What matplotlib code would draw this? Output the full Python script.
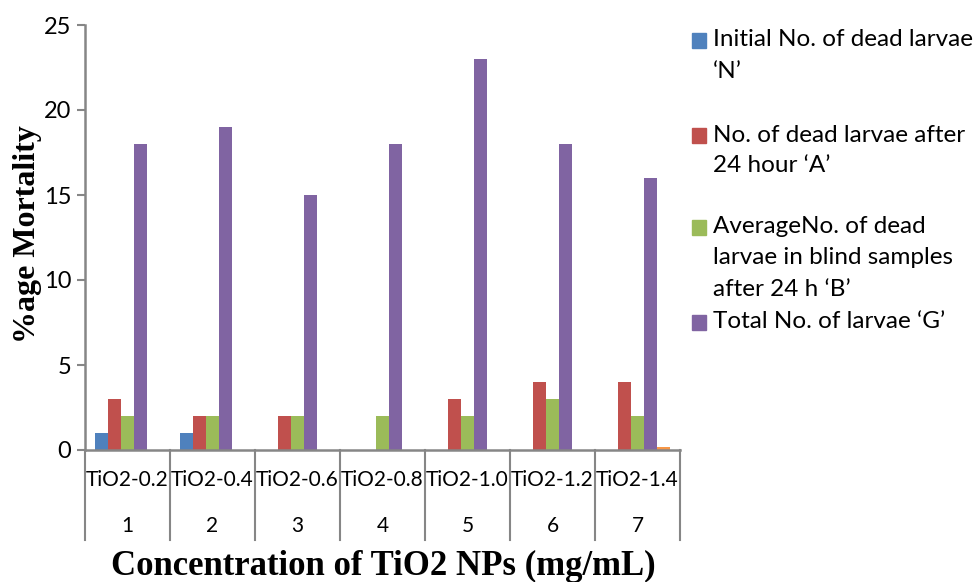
import numpy as np
import matplotlib.pyplot as plt
from matplotlib.patches import Rectangle
from matplotlib.transforms import blended_transform_factory

# Mortality counts per TiO2 concentration
samples = ['TiO2-0.2', 'TiO2-0.4', 'TiO2-0.6', 'TiO2-0.8', 'TiO2-1.0', 'TiO2-1.2', 'TiO2-1.4']
sample_no = ['1', '2', '3', '4', '5', '6', '7']
initial_dead = [1, 1, 0, 0, 0, 0, 0]
dead_24h = [3, 2, 2, 0, 3, 4, 4]
blind_avg = [2, 2, 2, 2, 2, 3, 2]
total_larvae = [18, 19, 15, 18, 23, 18, 16]
extra_series = [0, 0, 0, 0, 0, 0, 0.15]

legend_labels = [
    'Initial No. of dead larvae\n\u2018N\u2019',
    'No. of dead larvae after\n24 hour \u2018A\u2019',
    'AverageNo. of dead\nlarvae in blind samples\nafter 24 h \u2018B\u2019',
    'Total No. of larvae \u2018G\u2019',
]
colors = ['#4F81BD', '#C0504D', '#9BBB59', '#8064A2', '#F79646']
series = [initial_dead, dead_24h, blind_avg, total_larvae, extra_series]

plt.rcParams['font.family'] = ['Lato', 'DejaVu Sans']
W, H = 976, 582
fig = plt.figure(figsize=(W / 100, H / 100), dpi=100)
ax = fig.add_axes([85 / W, 1 - 450 / H, 595 / W, 425 / H])

x = np.arange(len(samples))
bw = 13 / 85
for k, (vals, c) in enumerate(zip(series, colors)):
    ax.bar(x + (k - 2) * bw, vals, width=bw, color=c, edgecolor='none', zorder=2)

ax.set_xlim(-0.5, len(samples) - 0.5)
ax.set_ylim(0, 25)
ax.set_yticks([0, 5, 10, 15, 20, 25])
ax.tick_params(axis='y', length=6, width=1.5, color='#868686', labelsize=17, pad=4)
ax.set_xticks([])
for s in ['top', 'right']:
    ax.spines[s].set_visible(False)
for s in ['left', 'bottom']:
    ax.spines[s].set_color('#868686')
    ax.spines[s].set_linewidth(1.8)

# two-level category axis drawn as a table under the plot
tr = blended_transform_factory(ax.transData, ax.transAxes)
for b in np.arange(len(samples) + 1) - 0.5:
    ax.plot([b, b], [0, -90 / 425], transform=tr, color='#868686', lw=1.5, clip_on=False)
for i in range(len(samples)):
    ax.text(x[i], -30 / 425, samples[i], transform=tr, ha='center', va='center', fontsize=15)
    ax.text(x[i], -76 / 425, sample_no[i], transform=tr, ha='center', va='center', fontsize=15)

fig.text(383 / W, 1 - 566 / H, 'Concentration of TiO2 NPs (mg/mL)', ha='center', va='center',
         family='Liberation Serif', weight='bold', fontsize=25)
fig.text(28 / W, 1 - 234 / H, '%age Mortality', ha='center', va='center', rotation=90,
         family='Liberation Serif', weight='bold', fontsize=23)

# legend, first line of each entry beside its square
entry_y = [40, 135, 227, 322]
for lab, c, y in zip(legend_labels, colors, entry_y):
    fig.patches.append(Rectangle((692 / W, 1 - (y + 8) / H), 14 / W, 15 / H,
                                 transform=fig.transFigure, color=c))
    for j, line in enumerate(lab.split('\n')):
        fig.text(713 / W, 1 - (y + 31 * j) / H, line, ha='left', va='center', fontsize=17.5)

fig.savefig('out.png', dpi=100)
